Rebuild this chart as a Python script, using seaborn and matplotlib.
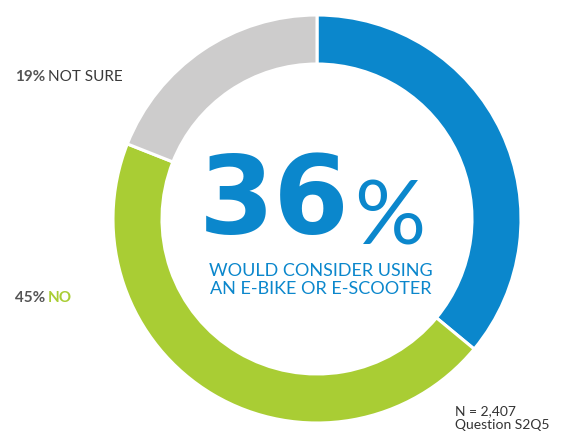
import matplotlib
matplotlib.use("Agg")
import matplotlib.pyplot as plt
import seaborn as sns

# Survey answers
labels = ["Would consider", "No", "Not sure"]
shares = [36, 45, 19]
colors = ["#0b87cc", "#a9cd34", "#cdcccc"]

headline = "36"
subtitle = "WOULD CONSIDER USING\nAN E-BIKE OR E-SCOOTER"
sample_note = "N = 2,407\nQuestion S2Q5"

sns.set_theme(style="white")
plt.rcParams["font.family"] = ["Lato", "DejaVu Sans"]

W, H = 571, 432
fig = plt.figure(figsize=(W / 100, H / 100), dpi=100)
ax = fig.add_axes([0, 0, 1, 1])

# Donut ring, clockwise from 12 o'clock
ax.pie(shares, colors=colors, radius=204, center=(317, H - 219),
       startangle=90, counterclock=False, frame=True,
       wedgeprops=dict(width=49, edgecolor="white", linewidth=2.2))
ax.set_xlim(0, W)
ax.set_ylim(0, H)
ax.set_aspect("equal")
ax.axis("off")

blue = colors[0]
# Headline number
t36 = ax.text(199, H - 233, headline, fontsize=78, fontweight="bold",
              family="DejaVu Sans", color=blue, ha="left", va="baseline")
ax.annotate("%", xy=(1, 0), xycoords=t36, xytext=(3, -3),
            textcoords="offset points", fontsize=64, fontweight="normal",
            color=blue, ha="left", va="bottom")

ax.text(321, H - 280, subtitle, fontsize=13, color=blue, ha="center",
        va="center", linespacing=1.2)

# Side labels
grey = "#555555"
t19 = ax.text(15, H - 77, f"{shares[2]}%", fontsize=11, fontweight="bold",
              color=grey, ha="left", va="center")
ax.annotate("NOT SURE", xy=(1, 0.5), xycoords=t19, xytext=(2, 0),
            textcoords="offset points", fontsize=11, color="#3a3a3a",
            ha="left", va="center")

t45 = ax.text(15, H - 298, f"{shares[1]}%", fontsize=11, fontweight="bold",
              color=grey, ha="left", va="center")
ax.annotate("NO", xy=(1, 0.5), xycoords=t45, xytext=(2, 0),
            textcoords="offset points", fontsize=11, fontweight="bold",
            color=colors[1], ha="left", va="center")

ax.text(455, H - 418, sample_note, fontsize=10, color="#333333",
        ha="left", va="center", linespacing=1.25)

fig.savefig("out.png", dpi=100)
